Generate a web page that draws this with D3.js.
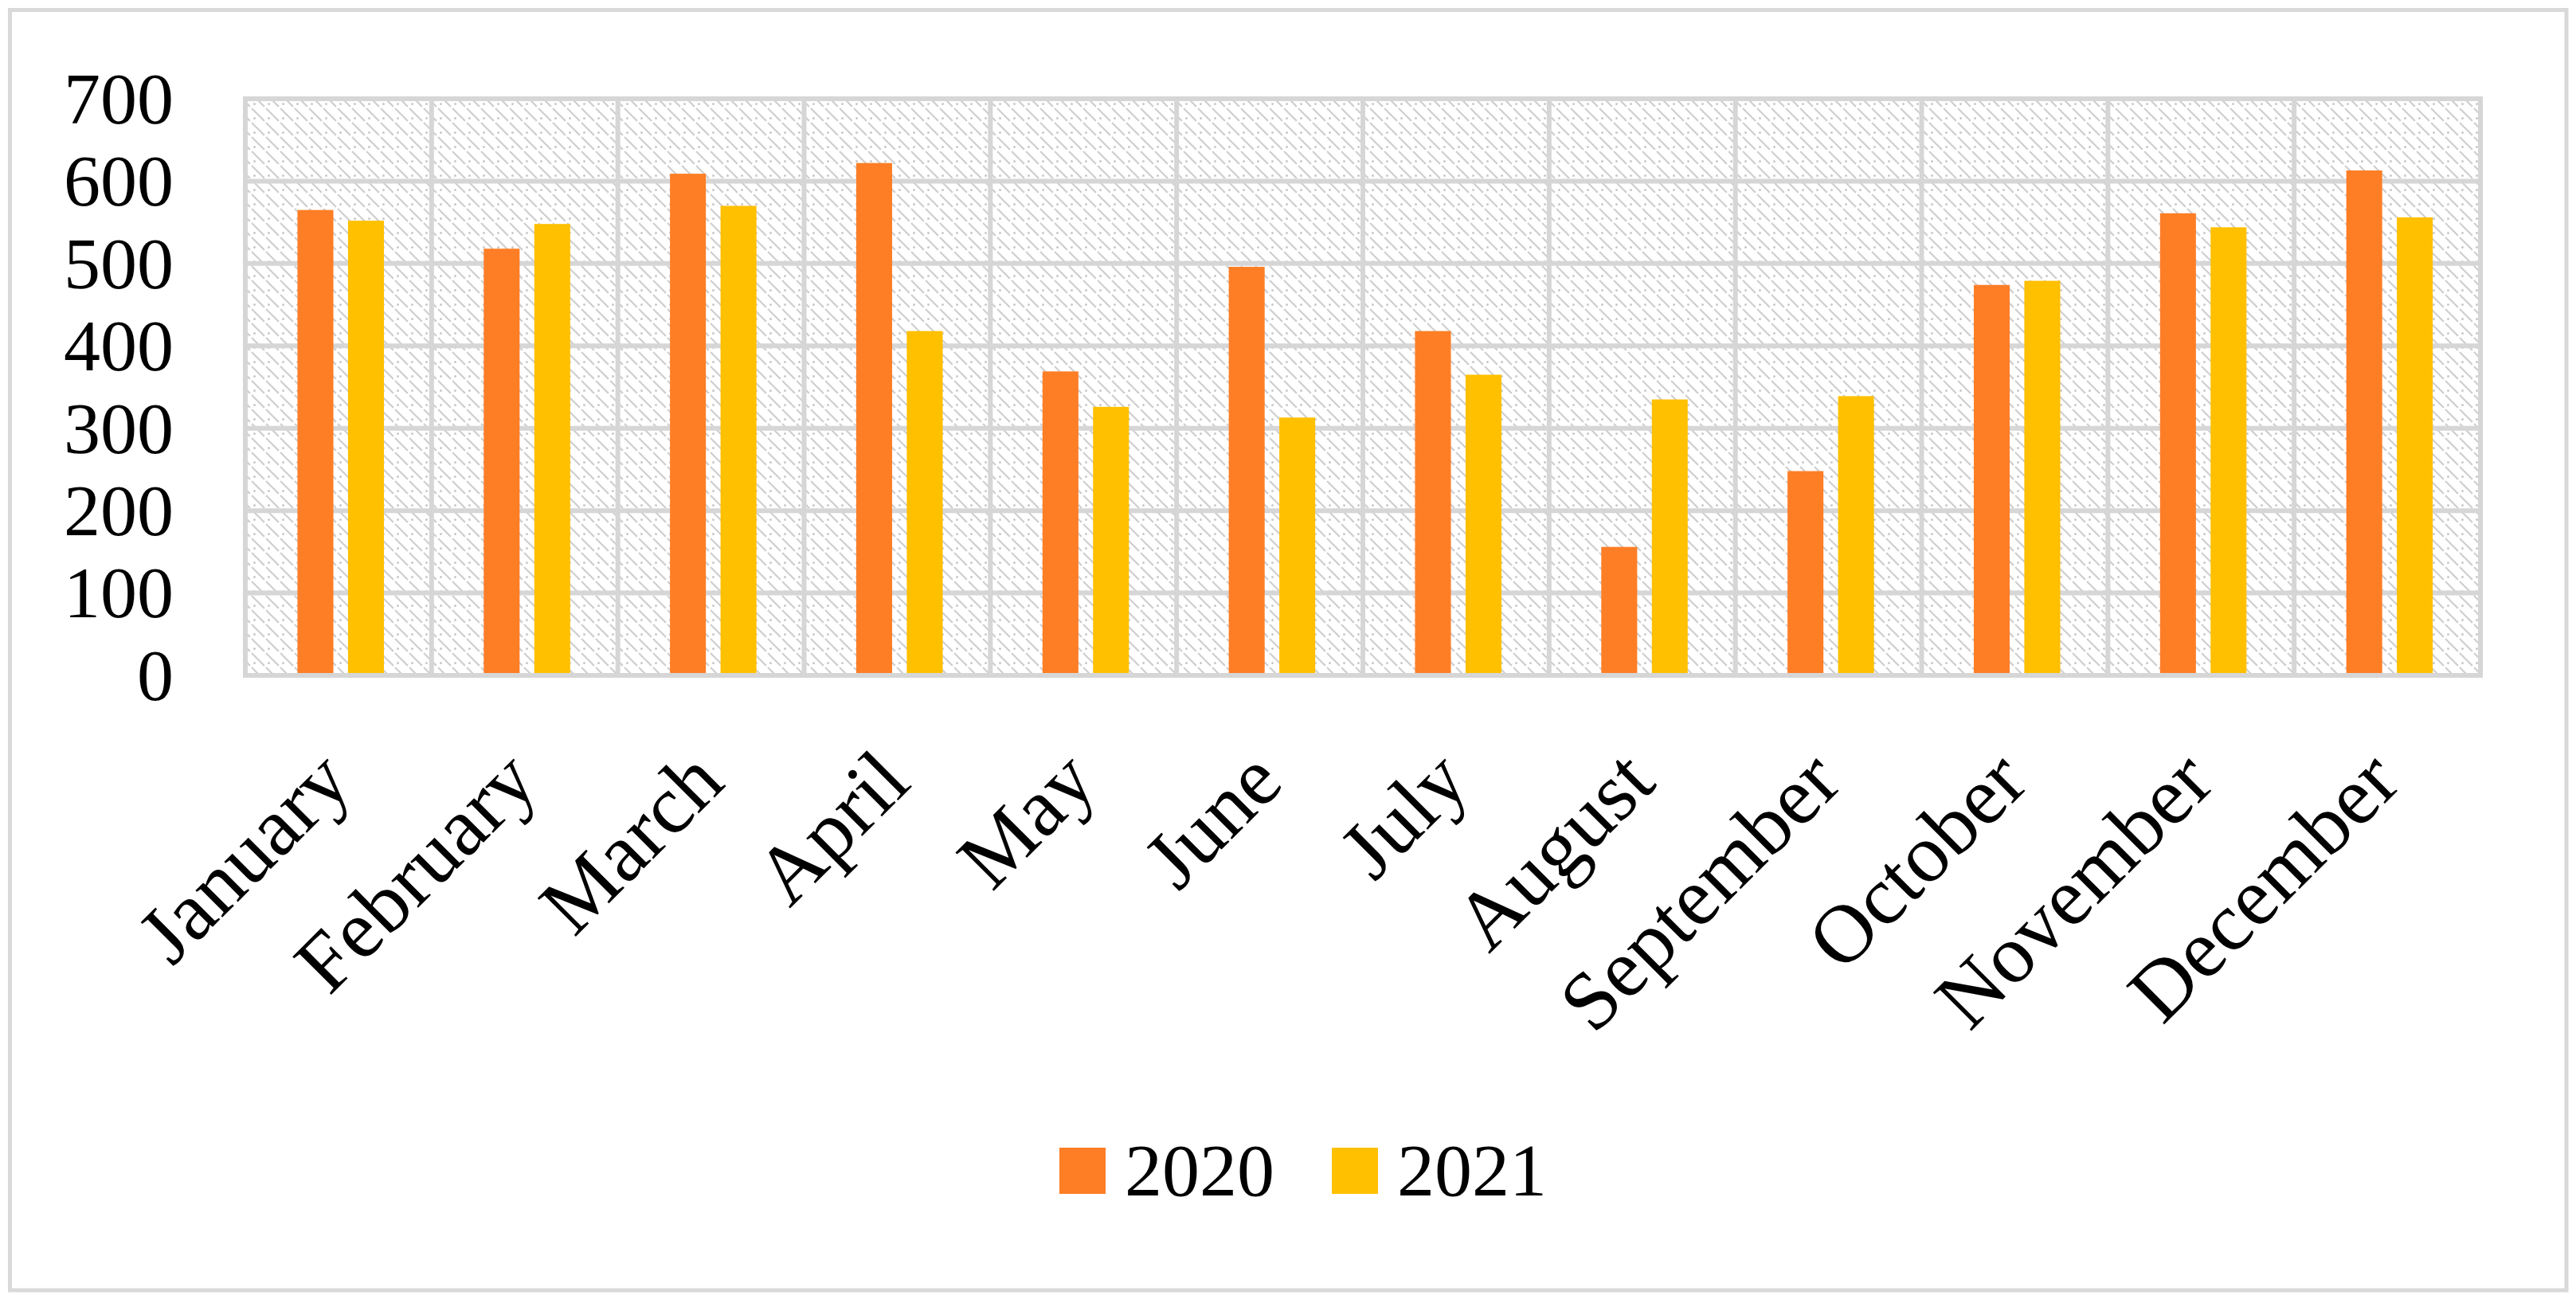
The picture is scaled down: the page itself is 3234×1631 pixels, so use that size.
<!DOCTYPE html>
<html>
<head>
<meta charset="utf-8">
<script src="https://cdn.jsdelivr.net/npm/d3@7"></script>
<style>
  html, body { margin: 0; padding: 0; background: #ffffff; }
  svg { display: block; }
  text { font-family: "Liberation Serif", "DejaVu Serif", serif; fill: #000; }
</style>
</head>
<body>
<svg id="chart" width="3234" height="1631"></svg>
<script>
const months = ["January","February","March","April","May","June","July","August","September","October","November","December"];
const seriesNames = ["2020","2021"];
const values2020 = [565, 518, 609, 622, 369, 496, 418, 156, 248, 474, 561, 613];
const values2021 = [552, 548, 570, 418, 326, 313, 365, 335, 339, 479, 544, 556];
const yTicks = [0, 100, 200, 300, 400, 500, 600, 700];
const colors = ["#FE7E26", "#FFC000"];

const W = 3234, H = 1631;
const plot = { left: 308, right: 3114, top: 124, bottom: 848 };

const svg = d3.select("#chart");

// Pattern for plot background
const defs = svg.append("defs");
const P = 18;
const pat = defs.append("pattern")
  .attr("id", "hatch")
  .attr("patternUnits", "userSpaceOnUse")
  .attr("width", P).attr("height", P);
pat.append("rect").attr("width", P).attr("height", P).attr("fill", "#ffffff");
pat.append("path")
  .attr("d", `M-2,-2 L${P+2},${P+2} M-2,${P-2} L2,${P+2} M${P-2},-2 L${P+2},2`)
  .attr("stroke", "#cfcfcf").attr("stroke-width", 2.2)
  .attr("stroke-dasharray", "14,3");
pat.append("circle").attr("cx", P * 0.75).attr("cy", P * 0.25).attr("r", 1.5).attr("fill", "#c8c8c8");

// Outer chart border
svg.append("rect")
  .attr("x", 12.5).attr("y", 12.5)
  .attr("width", 3222 - 12.5).attr("height", 1620 - 12.5)
  .attr("fill", "#ffffff")
  .attr("stroke", "#d9d9d9").attr("stroke-width", 5);

const x0 = d3.scaleBand().domain(months).range([plot.left, plot.right]).paddingInner(0).paddingOuter(0);
const bw = x0.bandwidth();
const x1 = d3.scaleBand().domain(seriesNames).range([bw * 0.28, bw * 0.744]).paddingInner(0.29).paddingOuter(0);
const y = d3.scaleLinear().domain([0, 700]).range([plot.bottom, plot.top]);

// Plot background
svg.append("rect")
  .attr("x", plot.left).attr("y", plot.top)
  .attr("width", plot.right - plot.left).attr("height", plot.bottom - plot.top)
  .attr("fill", "url(#hatch)");

// Gridlines
const grid = svg.append("g").attr("stroke", "#d6d6d6").attr("stroke-width", 6);
grid.selectAll("line.h").data(yTicks).enter().append("line")
  .attr("x1", plot.left).attr("x2", plot.right)
  .attr("y1", d => y(d)).attr("y2", d => y(d));
const vlines = months.map(m => x0(m)).concat([plot.right]);
grid.selectAll("line.v").data(vlines).enter().append("line")
  .attr("x1", d => d).attr("x2", d => d)
  .attr("y1", plot.top - 3).attr("y2", plot.bottom + 3);

// Bars
const data = months.map((m, i) => ({ month: m, vals: [values2020[i], values2021[i]] }));
const groups = svg.append("g").selectAll("g").data(data).enter().append("g")
  .attr("transform", d => `translate(${x0(d.month)},0)`);
groups.selectAll("rect").data(d => d.vals.map((v, j) => ({ key: seriesNames[j], v, j })))
  .enter().append("rect")
  .attr("x", d => x1(d.key))
  .attr("width", x1.bandwidth())
  .attr("y", d => y(d.v))
  .attr("height", d => y(0) - y(d.v) - 3)
  .attr("fill", d => colors[d.j]);

// Y axis
const yAxis = svg.append("g")
  .attr("transform", `translate(${plot.left},0)`)
  .call(d3.axisLeft(y).tickValues(yTicks).tickSize(0).tickPadding(90));
yAxis.select(".domain").remove();
yAxis.selectAll("text")
  .style("font-family", '"Liberation Serif", serif')
  .style("font-size", "92px")
  .attr("fill", "#000")
  .attr("dy", "0.33em");

// X axis
const xAxis = svg.append("g")
  .attr("transform", `translate(0,${plot.bottom})`)
  .call(d3.axisBottom(x0).tickSize(0));
xAxis.select(".domain").remove();
xAxis.selectAll("text")
  .style("font-family", '"Liberation Serif", serif')
  .style("font-size", "104px")
  .attr("fill", "#000")
  .attr("x", 0).attr("y", 0).attr("dy", 0)
  .attr("text-anchor", "end")
  .attr("transform", "translate(20,138) rotate(-45)");

// Legend
const legend = svg.append("g");
const legendItems = [
  { name: seriesNames[0], color: colors[0], sx: 1330, tx: 1412 },
  { name: seriesNames[1], color: colors[1], sx: 1672, tx: 1754 }
];
legendItems.forEach(it => {
  legend.append("rect")
    .attr("x", it.sx).attr("y", 1441)
    .attr("width", 58).attr("height", 58)
    .attr("fill", it.color);
  legend.append("text")
    .attr("x", it.tx).attr("y", 1501)
    .style("font-size", "94px")
    .text(it.name);
});
</script>
</body>
</html>
